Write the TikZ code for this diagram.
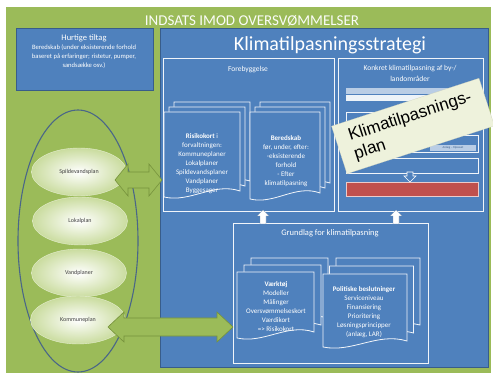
\documentclass[tikz,border=0pt]{standalone}
\usepackage{fontspec}
\setmainfont{Carlito}
\newfontfamily\notefont{Liberation Sans}
\usetikzlibrary{positioning,shapes.geometric}
\definecolor{bggreen}{HTML}{9BBB59}
\definecolor{arrowedge}{HTML}{76923C}
\definecolor{boxblue}{HTML}{4F81BD}
\definecolor{boxedge}{HTML}{385D8A}
\definecolor{ringblue}{HTML}{4A6688}
\definecolor{ellfill}{HTML}{CADC9F}
\definecolor{notebg}{HTML}{EEF2DC}
\definecolor{planred}{HTML}{C0504D}
\definecolor{lightbar}{HTML}{B9CDE5}
\tikzset{%
	headline/.style = {text=white!95!bggreen, font=\fontsize{15}{17}\selectfont},
	lbl/.style      = {text=white, align=center},
	panelbox/.style = {draw=white!92!boxblue, line width=0.9pt},
	pagebox/.style  = {draw=white!92!boxblue, fill=boxblue, line width=0.8pt},
	doctext/.style  = {text=white, align=center, font=\fontsize{7}{9}\selectfont},
	planell/.style  = {ellipse, draw=white!50!ellfill, inner color=white, outer color=ellfill,
	                   minimum width=95pt, minimum height=48pt, text=black!75, font=\fontsize{6}{7}\selectfont},
	bigarrow/.style = {fill=bggreen, draw=arrowedge, line width=0.6pt},
	uparrow/.style  = {fill=white, draw=boxedge!70, line width=0.3pt},
	notebox/.style  = {fill=notebg, draw=notebg!85!black, line width=0.2pt, rotate=18,
	                   minimum width=155pt, minimum height=50pt},
}
% one page with wavy foot: x1,y1,x2,y2
\newcommand{\docpage}[4]{%
	\draw[pagebox] (#1,#2) -- (#3,#2) -- (#3,{#4-6})
		.. controls ({#3-0.35*(#3-#1)},{#4-15}) and ({#1+0.35*(#3-#1)},{#4+6}) .. (#1,#4) -- cycle;}
% three pages: front x1,y1,x2,y2 and shift dx,dy
\newcommand{\docstack}[6]{%
	\docpage{#1+2*#5}{#2-2*#6}{#3+2*#5}{#4-2*#6}
	\docpage{#1+#5}{#2-#6}{#3+#5}{#4-#6}
	\docpage{#1}{#2}{#3}{#4}}
% block arrow with two heads: xl,xr,yc,shaft,head,headlength
\newcommand{\dblarrow}[6]{%
	\draw[bigarrow] (#1,#3) -- ({#1+#6},{#3-#5}) -- ({#1+#6},{#3-#4}) -- ({#2-#6},{#3-#4})
		-- ({#2-#6},{#3-#5}) -- (#2,#3) -- ({#2-#6},{#3+#5}) -- ({#2-#6},{#3+#4})
		-- ({#1+#6},{#3+#4}) -- ({#1+#6},{#3+#5}) -- cycle;}
% small arrow: x, tip y, foot y
\newcommand{\smallup}[3]{%
	\draw[uparrow] ({#1-3},#3) -- ({#1-3},{#2+6}) -- ({#1-6},{#2+6}) -- (#1,#2)
		-- ({#1+6},{#2+6}) -- ({#1+3},{#2+6}) -- ({#1+3},#3) -- cycle;}
\begin{document}
\begin{tikzpicture}[x=1pt,y=-1pt]
	\useasboundingbox (0,0) rectangle (493,374);
	\fill[white] (0,0) rectangle (493,374);
	\fill[bggreen] (6,7) rectangle (491,373);
	\node[headline] (top) at (252,21) {INDSATS IMOD OVERSVØMMELSER};
	
	% quick measures
	\draw[fill=boxblue, draw=boxedge, line width=0.8pt] (16,28) rectangle (153,90);
	\node[lbl, font=\fontsize{8.5}{10}\selectfont] (quick) at (84,38) {Hurtige tiltag};
	\node[lbl, font=\fontsize{6.6}{9}\selectfont] (quicktxt) at (84,57) {Beredskab (under eksisterende forhold\\baseret på erfaringer; ristetur, pumper,\\sandsække osv.)};
	
	% strategy
	\draw[fill=boxblue, draw=boxedge, line width=0.8pt] (160,28) rectangle (488,367);
	\node[lbl, font=\fontsize{20}{23}\selectfont] (strategy) at (330,45) {Klimatilpasningsstrategi};
	
	\draw[panelbox] (163,58) rectangle (334,211);
	\node[lbl, font=\fontsize{7.5}{9}\selectfont] (prevent) at (248,70) {Forebyggelse};
	\docstack{164}{112}{240}{197}{5}{5}
	\node[doctext] (risiko) at (202,164) {\textbf{Risikokort} i\\forvaltningen:\\Kommuneplaner\\Lokalplaner\\Spildevandsplaner\\Vandplaner\\Byggesager};
	\docstack{250}{112}{320}{199}{5}{5}
	\node[doctext] (bered) at (286,161.5) {\textbf{Beredskab}\\før, under, efter:\\-eksisterende\\forhold\\- Efter\\klimatilpasning};
	
	\draw[panelbox] (338,58) rectangle (483,211);
	\node[lbl, font=\fontsize{7.5}{11}\selectfont] (concrete) at (410,73.5) {Konkret klimatilpasning af by-/\\landområder};
	\fill[lightbar] (346,88) rectangle (478,94);
	\fill[white!90!boxblue] (346,95) rectangle (478,101);
	\draw[panelbox, line width=0.6pt] (346,112) rectangle (478,127);
	\draw[panelbox, line width=0.6pt] (346,135) rectangle (478,152);
	\fill[lightbar] (430,145) rectangle (476,151);
	\node[text=boxedge, font=\fontsize{3}{3}\selectfont] (anlaeg) at (453,148) {Anlæg -- tilpasset};
	\draw[panelbox, line width=0.6pt] (346,158) rectangle (478,173);
	\draw[draw=white, fill=boxblue, line width=0.6pt] (407,172) -- (407,176) -- (404,176) -- (410,182) -- (416,176) -- (413,176) -- (413,172) -- cycle;
	\draw[fill=planred, draw=white!70!planred, line width=0.6pt] (346,182) rectangle (478,196);
	\node[notebox] (note) at (413,126) {};
	\node[rotate=18, align=left, font=\notefont\fontsize{17}{19}\selectfont] (notetxt) at (note.center) {Klimatilpasnings-\\plan};
	
	% basis
	\draw[panelbox] (233,223) rectangle (428,363);
	\node[lbl, font=\fontsize{8.5}{10}\selectfont] (basis) at (330,233) {Grundlag for klimatilpasning};
	\smallup{263}{210}{224}
	\smallup{396}{210}{224}
	\docstack{237}{272}{314}{338}{7}{7}
	\node[doctext] (tool) at (276,307) {\textbf{Værktøj}\\Modeller\\Målinger\\Oversvømmelseskort\\Værdikort\\=> Risikokort};
	\docstack{323}{274}{407}{347}{6.5}{8}
	\node[doctext] (policy) at (364,312.5) {\textbf{Politiske beslutninger}\\Serviceniveau\\Finansiering\\Prioritering\\Løsningsprincipper\\(anlæg, LAR)};
	
	% plans
	\draw[ringblue, line width=1.1pt] (78,241) ellipse [x radius=60, y radius=131];
	\node[planell] (spild) at (79,172) {Spildevandsplan};
	\node[planell] (lokal) at (80,221) {Lokalplan};
	\node[planell] (vand)  at (79,273) {Vandplaner};
	\node[planell] (kommune) at (78,320) {Kommuneplan};
	\dblarrow{115}{162}{180}{8}{16}{13}
	\dblarrow{108}{233}{327}{9}{15}{16}
\end{tikzpicture}
\end{document}
